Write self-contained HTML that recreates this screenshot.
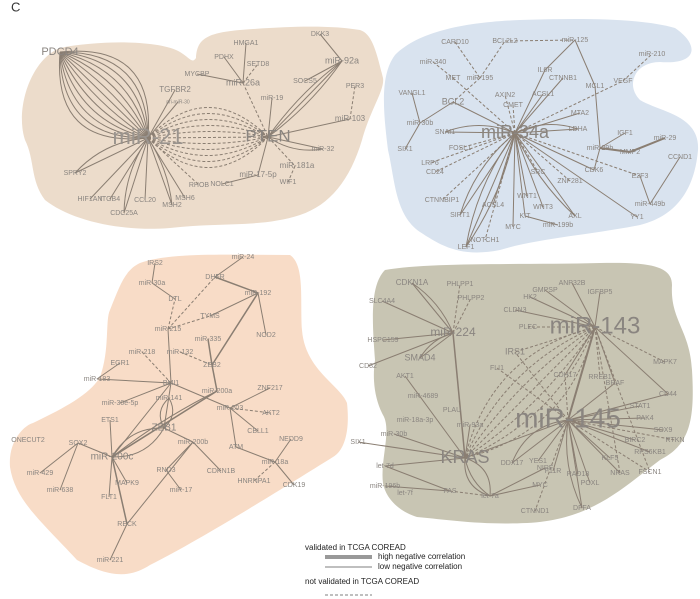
<!DOCTYPE html>
<html><head><meta charset="utf-8"><style>
html,body{margin:0;padding:0;background:#fff;}
svg{display:block;font-family:"Liberation Sans",sans-serif;}
text{fill:#8a8580;text-anchor:middle;dominant-baseline:middle;font-size:7px;}
.big{font-size:22px;fill:#9a948e;}
.mid{font-size:11px;}
</style></head><body>
<svg id="s" width="700" height="599" viewBox="0 0 700 599">
<text x="11" y="8" style="font-size:13px;fill:#333;text-anchor:start">C</text>
<path d="M60,48 C100,40 160,40 180,52 C190,58 192,64 196,58 C197,40 205,33 240,30 C290,26 330,25 360,30 C372,34 376,50 383,78 C385,90 370,110 362,140 C350,180 330,205 300,215 C260,228 220,222 170,228 C120,232 70,220 45,200 C30,180 35,160 25,140 C15,110 30,60 60,48Z" fill="#ecdccb"/>
<path d="M395,55 C420,30 470,22 520,20 C580,18 640,18 675,28 C700,45 698,65 660,62 C635,62 625,85 640,100 C660,112 700,115 698,150 C695,185 680,215 640,225 C590,235 540,238 500,250 C460,258 440,245 420,232 C395,215 395,180 388,150 C383,110 380,75 395,55Z" fill="#d9e3ef"/>
<path d="M140,263 C170,252 230,255 290,255 C305,265 300,300 302,330 C305,370 340,385 347,403 C350,430 345,450 333,457 C280,490 200,540 150,565 C130,578 110,578 77,560 C40,520 15,500 10,467 C8,440 25,425 33,423 C60,410 90,395 100,377 C110,350 105,320 110,310 C120,285 125,270 140,263Z" fill="#f8dcc7"/>
<path d="M385,270 C430,262 520,265 600,263 C650,262 672,266 672,285 C670,320 690,330 692,370 C695,420 690,445 660,460 C620,490 590,520 527,523 C480,525 450,520 417,517 C395,510 385,495 383,483 C380,460 392,430 383,415 C375,400 372,380 375,360 C372,320 370,285 385,270Z" fill="#c8c5b3"/>
<g id="edges" stroke="#8a7e72" fill="none" stroke-width="1"></g>
<g id="labels">
<!-- top-left -->
<text x="60" y="52" class="mid">PDCD4</text><text x="148" y="138" class="big">miR-21</text><text x="268" y="137" style="font-size:17px">PTEN</text>
<text x="175" y="90" style="font-size:8px">TGFBR2</text><text x="178" y="102" style="font-size:5px">pri-miR-30</text><text x="197" y="74">MYCBP</text><text x="224" y="57">PDHX</text><text x="246" y="43">HMGA1</text><text x="258" y="64">SETD8</text><text x="243" y="83" style="font-size:9px">miR-26a</text><text x="320" y="34">DKK3</text><text x="342" y="61" style="font-size:9px">miR-92a</text><text x="305" y="81">SOCS5</text><text x="355" y="86">PER3</text><text x="272" y="98">miR-19</text><text x="350" y="119" style="font-size:8px">miR-103</text><text x="323" y="149">miR-32</text><text x="297" y="166" style="font-size:8px">miR-181a</text><text x="288" y="182">WIF1</text><text x="258" y="175" style="font-size:8px">miR-17-5p</text><text x="222" y="184">NOLC1</text><text x="199" y="185">RHOB</text><text x="185" y="198">MSH6</text><text x="172" y="205">MSH2</text><text x="145" y="200">CCL20</text><text x="124" y="213">CDC25A</text><text x="110" y="199">ITGB4</text><text x="90" y="199">HIF1AN</text><text x="75" y="173">SPRY2</text>
<!-- blue -->
<text x="455" y="42">CARD10</text><text x="505" y="41">BCL2L2</text><text x="575" y="40">miR-125</text><text x="652" y="54">miR-210</text><text x="433" y="62">miR-340</text><text x="453" y="78">MET</text><text x="480" y="78">miR-195</text><text x="545" y="70">IL6R</text><text x="563" y="78">CTNNB1</text><text x="595" y="86">MCL1</text><text x="623" y="81">VEGF</text><text x="412" y="93">VANGL1</text><text x="505" y="95">AXIN2</text><text x="543" y="94">ACSL1</text><text x="453" y="102" style="font-size:9px">BCL2</text><text x="513" y="105">CMET</text><text x="580" y="113">MTA2</text><text x="420" y="123">miR-30b</text><text x="445" y="132">SNAI1</text><text x="515" y="133" style="font-size:18px">miR-34a</text><text x="578" y="129">LDHA</text><text x="625" y="133">IGF1</text><text x="665" y="138">miR-29</text><text x="600" y="148">miR-29b</text><text x="630" y="152">MMP2</text><text x="405" y="149">SIX1</text><text x="460" y="148">FOSL1</text><text x="680" y="157">CCND1</text><text x="430" y="163">LRP6</text><text x="435" y="172">CD24</text><text x="594" y="170">CDK6</text><text x="538" y="172">SRC</text><text x="640" y="176">E2F3</text><text x="570" y="181">ZNF281</text><text x="442" y="200">CTNNBIP1</text><text x="527" y="196">WNT1</text><text x="493" y="205">ACSL4</text><text x="543" y="207">WNT3</text><text x="460" y="215">SIRT1</text><text x="525" y="216">KIT</text><text x="575" y="216">AXL</text><text x="650" y="204">miR-449b</text><text x="637" y="217">YY1</text><text x="513" y="227">MYC</text><text x="558" y="225">miR-199b</text><text x="485" y="240">NOTCH1</text><text x="466" y="247">LEF1</text>
<!-- salmon -->
<text x="155" y="263">IRS2</text><text x="243" y="257">miR-24</text><text x="152" y="283">miR-30a</text><text x="215" y="277">DHFR</text><text x="258" y="293">miR-192</text><text x="175" y="299">DTL</text><text x="210" y="316">TYMS</text><text x="168" y="329">miR-215</text><text x="266" y="335">NOD2</text><text x="208" y="339">miR-335</text><text x="142" y="352">miR-218</text><text x="180" y="352">miR-132</text><text x="212" y="365">ZEB2</text><text x="120" y="363">EGR1</text><text x="97" y="379">miR-183</text><text x="171" y="383">BMI1</text><text x="217" y="391">miR-200a</text><text x="270" y="388">ZNF217</text><text x="169" y="398">miR-141</text><text x="120" y="403">miR-30e-5p</text><text x="230" y="408">miR-203</text><text x="271" y="413">AKT2</text><text x="110" y="420">ETS1</text><text x="164" y="428" style="font-size:10px">ZEB1</text><text x="258" y="431">CBLL1</text><text x="28" y="440">ONECUT2</text><text x="78" y="443">SOX2</text><text x="193" y="442">miR-200b</text><text x="291" y="439">NEDD9</text><text x="236" y="447">ATM</text><text x="112" y="457" style="font-size:10px">miR-200c</text><text x="275" y="462">miR-18a</text><text x="40" y="473">miR-429</text><text x="166" y="470">RND3</text><text x="221" y="471">CDKN1B</text><text x="254" y="481">HNRNPA1</text><text x="294" y="485">CDK19</text><text x="127" y="483">MAPK9</text><text x="60" y="490">miR-638</text><text x="181" y="490">miR-17</text><text x="109" y="497">FLT1</text><text x="127" y="524">RECK</text><text x="110" y="560">miR-221</text>
<!-- olive -->
<text x="412" y="283" style="font-size:8px">CDKN1A</text><text x="460" y="284">PHLPP1</text><text x="471" y="298">PHLPP2</text><text x="382" y="301">SLC4A4</text><text x="453" y="333" style="font-size:12px">miR-224</text><text x="383" y="340">HSPC159</text><text x="420" y="358" style="font-size:9px">SMAD4</text><text x="368" y="366">CD82</text><text x="405" y="376">AKT1</text><text x="423" y="396">miR-4689</text><text x="452" y="410">PLAU</text><text x="415" y="420">miR-18a-3p</text><text x="470" y="425">miR-93a</text><text x="394" y="434">miR-30b</text><text x="358" y="442">SIX1</text><text x="465" y="458" style="font-size:18px">KRAS</text><text x="385" y="466">let-7d</text><text x="385" y="486">miR-196b</text><text x="405" y="493">let-7f</text><text x="450" y="491">FAS</text><text x="490" y="496">let-7a</text><text x="540" y="485">MYC</text><text x="545" y="468">NIRF</text><text x="512" y="463">DDX17</text><text x="538" y="461">YES1</text><text x="553" y="471">F11R</text><text x="535" y="511">CTNND1</text><text x="582" y="508">DFFA</text><text x="590" y="483">POXL</text><text x="578" y="474">RAD18</text><text x="620" y="473">NRAS</text><text x="650" y="472">FSCN1</text><text x="610" y="458">KLF5</text><text x="650" y="452">RPS6KB1</text><text x="635" y="440">BIRC2</text><text x="675" y="440">RTKN</text><text x="663" y="430">SOX9</text><text x="645" y="418">PAK4</text><text x="640" y="406">STAT1</text><text x="668" y="394">CD44</text><text x="568" y="420" style="font-size:28px">miR-145</text><text x="515" y="352" style="font-size:9px">IRS1</text><text x="497" y="368">FLI1</text><text x="565" y="375">CDH17</text><text x="600" y="377">RREB1</text><text x="615" y="383">BRAF</text><text x="665" y="362">MAPK7</text><text x="595" y="327" style="font-size:24px">miR-143</text><text x="528" y="327">PLEC</text><text x="515" y="310">CLDN3</text><text x="530" y="297">HK2</text><text x="545" y="290">GMPSP</text><text x="572" y="283">ANP32B</text><text x="600" y="292">IGFBP5</text>
</g>
<g style="font-size:8px">
<text x="305" y="548" style="text-anchor:start;fill:#222;font-size:8px">validated in TCGA COREAD</text>
<line x1="325" y1="557" x2="372" y2="557" stroke="#999" stroke-width="4"/>
<text x="378" y="557" style="text-anchor:start;fill:#222;font-size:8px">high negative correlation</text>
<line x1="325" y1="567" x2="372" y2="567" stroke="#999" stroke-width="1.2"/>
<text x="378" y="567" style="text-anchor:start;fill:#222;font-size:8px">low negative correlation</text>
<text x="305" y="582" style="text-anchor:start;fill:#222;font-size:8px">not validated in TCGA COREAD</text>
<line x1="325" y1="595" x2="372" y2="595" stroke="#999" stroke-width="1.2" stroke-dasharray="3,2"/>
</g>
</svg>
<script>
var g=document.getElementById('edges'),N='http://www.w3.org/2000/svg';
function L(a,b,c,d,dash,w){var e=document.createElementNS(N,'line');e.setAttribute('x1',a);e.setAttribute('y1',b);e.setAttribute('x2',c);e.setAttribute('y2',d);if(dash)e.setAttribute('stroke-dasharray','3,2');if(w)e.setAttribute('stroke-width',w);g.appendChild(e);}
function C(a,b,c,d,k,dash){var mx=(a+c)/2,my=(b+d)/2,dx=c-a,dy=d-b;var p=document.createElementNS(N,'path');p.setAttribute('d','M'+a+','+b+' Q'+(mx-dy*k)+','+(my+dx*k)+' '+c+','+d);if(dash)p.setAttribute('stroke-dasharray','3,2');g.appendChild(p);}
function H(x,y,list,dash){list.forEach(function(p){L(x,y,p[0],p[1],dash);});}
// miR-21
for(var k=-0.6;k<=0.61;k+=0.1)C(60,52,148,138,k);
for(var k=-0.5;k<=0.51;k+=0.1)C(148,138,268,137,k,1);
H(148,138,[[175,90],[178,102],[75,173],[90,199],[110,199],[124,213],[145,200],[172,205],[185,198]]);
C(148,138,75,173,0.2);C(148,138,124,213,0.15);C(148,138,172,205,-0.12);
H(148,138,[[199,185]],1);
H(243,83,[[197,74],[224,57],[246,43]]);H(243,83,[[258,64],[268,137]],1);
H(268,137,[[342,61],[272,98],[350,119],[258,175]]);C(268,137,342,61,0.08);C(268,137,342,61,-0.08);C(268,137,323,149,0.2);L(268,137,323,149);
H(268,137,[[295,166]],1);L(342,61,320,34);L(342,61,305,81);L(350,119,355,86,1);L(258,175,222,184);L(295,166,288,182,1);
// miR-34a
var c=[515,133];
H(515,133,[[453,102],[445,132],[578,129],[580,113],[563,78],[545,70],[543,94],[594,170],[575,216],[637,217],[543,207],[527,196],[525,216],[513,227],[493,205],[460,215],[466,247]]);
H(515,133,[[453,78],[505,95],[513,105],[460,148],[430,163],[435,172],[442,200],[485,240],[623,81],[640,176],[538,172],[570,181]],1);
C(515,133,445,132,0.2);C(515,133,578,129,-0.2);C(515,133,460,215,0.15);C(515,133,466,247,0.12);C(515,133,466,247,-0.1);C(515,133,575,216,0.1);
L(412,93,420,123);L(420,123,405,149);L(420,123,453,102);L(433,62,453,78,1);L(455,42,480,78,1);L(480,78,505,41,1);L(480,78,453,102,1);L(505,41,575,40,1);L(575,40,545,70);L(575,40,595,86);L(595,86,600,148);L(623,81,652,54,1);L(600,148,625,133);L(600,148,630,152,null,2);L(630,152,665,138,null,2);L(600,148,594,170);L(640,176,650,204);L(650,204,680,157);L(558,225,525,216);
// salmon
L(155,263,152,283);L(152,283,175,299);L(243,257,215,277);L(215,277,258,293,null,1.5);L(258,293,210,316);L(258,293,266,335);L(258,293,212,365,null,1.5);
L(168,329,175,299,1);L(168,329,215,277,1);L(168,329,210,316,1);L(168,329,171,383);L(142,352,171,383,1);L(180,352,212,365,1);L(208,339,212,365,null,1.5);
L(120,363,97,379);L(97,379,171,383);L(171,383,230,408);L(171,383,120,403);L(171,383,112,457);L(212,365,217,391,null,1.5);
L(217,391,112,457,null,1.5);C(217,391,112,457,0.05);C(164,428,169,398,0.4);C(164,428,169,398,-0.4);
C(164,428,112,457,0.3);C(164,428,112,457,-0.3);L(164,428,193,442);L(171,383,164,428);
L(230,408,270,388);L(230,408,271,413,1);L(230,408,258,431);L(230,408,236,447);L(236,447,275,462);L(275,462,291,439);L(275,462,294,485);L(275,462,254,481,1);
L(193,442,166,470);L(193,442,221,471);L(166,470,181,490);L(193,442,127,524);
L(112,457,110,420);L(112,457,78,443);L(112,457,127,483);L(112,457,109,497);L(112,457,127,524,null,1.5);L(78,443,40,473);L(78,443,60,490);L(127,524,110,560);
// olive
H(453,333,[[412,283],[382,301],[383,340],[368,366],[420,358]]);C(453,333,412,283,0.15);C(453,333,420,358,0.2);
H(453,333,[[460,284],[471,298]],1);L(453,333,465,458,null,1.5);
H(465,458,[[405,376],[394,434],[385,466],[470,425],[358,442]]);
C(465,458,490,496,0.4);C(465,458,490,496,-0.4);C(465,458,490,496,0.2);L(450,491,385,466);L(450,491,385,486);L(450,491,490,496,1);L(490,496,540,485);L(490,496,545,468);
H(568,420,[[465,458],[668,394],[640,406],[645,418],[663,430],[635,440],[650,452],[610,458],[620,473],[590,483],[582,508],[578,474],[553,471],[538,461],[512,463],[615,383]]);
C(568,420,582,508,0.15);C(568,420,512,463,0.3);
H(568,420,[[675,440],[650,472],[535,511],[497,368],[515,352],[565,375]],1);
for(var k=-0.3;k<=0.31;k+=0.1)C(595,327,465,458,k,1);
H(595,327,[[515,310],[530,297],[545,290],[572,283],[600,292],[668,394],[615,383],[565,375]]);H(595,327,[[528,327],[665,362],[600,377],[620,473],[650,472],[515,352]],1);
L(595,327,568,420,null,2);
</script>
</body></html>
